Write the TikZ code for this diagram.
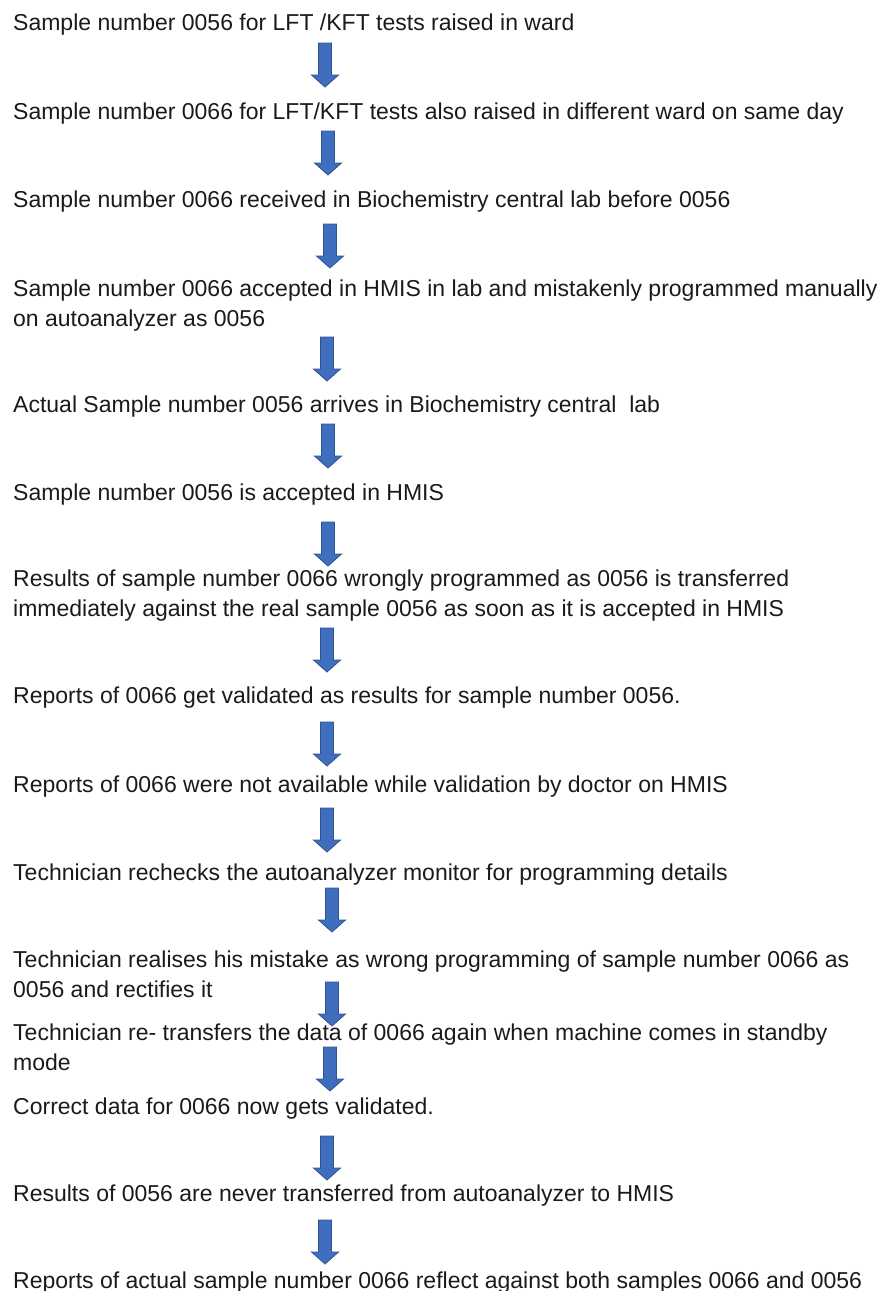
\documentclass[tikz,border=0pt]{standalone}
\usepackage{fontspec}
\setmainfont{Liberation Sans}
\definecolor{arrfill}{RGB}{64,110,190}
\definecolor{arrline}{RGB}{47,82,143}
\definecolor{txt}{RGB}{26,26,26}
\tikzset{
  stepline/.style={anchor=base west, inner sep=0pt, align=left, font=\fontsize{23}{30}\selectfont, text=txt},
  blockarr/.style={fill=arrfill, draw=arrline, line width=0.8pt, line join=miter},
  pics/downarrow/.style={code={
    \draw[blockarr] (-6.5,0) -- (6.5,0) -- (6.5,32) -- (13.5,32) -- (0,44) -- (-13.5,32) -- (-6.5,32) -- cycle;
    \coordinate (-top) at (0,0);
    \coordinate (-tip) at (0,44);
  }}
}
\begin{document}
\begin{tikzpicture}[x=1pt,y=-1pt]
\useasboundingbox (0,0) rectangle (881,1291);
\node[stepline] (s1) at (13,30) {Sample number 0056 for LFT /KFT tests raised in ward};
\node[stepline] (s2) at (13,119) {Sample number 0066 for LFT/KFT tests also raised in different ward on same day};
\node[stepline] (s3) at (13,207) {Sample number 0066 received in Biochemistry central lab before 0056};
\node[stepline] (s4) at (13,326) {Sample number 0066 accepted in HMIS in lab and mistakenly programmed manually\\on autoanalyzer as 0056};
\node[stepline] (s5) at (13,412) {Actual Sample number 0056 arrives in Biochemistry central\ \ lab};
\node[stepline] (s6) at (13,500) {Sample number 0056 is accepted in HMIS};
\node[stepline] (s7) at (13,616) {Results of sample number 0066 wrongly programmed as 0056 is transferred\\immediately against the real sample 0056 as soon as it is accepted in HMIS};
\node[stepline] (s8) at (13,703) {Reports of 0066 get validated as results for sample number 0056.};
\node[stepline] (s9) at (13,792) {Reports of 0066 were not available while validation by doctor on HMIS};
\node[stepline] (s10) at (13,880) {Technician rechecks the autoanalyzer monitor for programming details};
\node[stepline] (s11) at (13,997) {Technician realises his mistake as wrong programming of sample number 0066 as\\0056 and rectifies it};
\node[stepline] (s12) at (13,1070) {Technician re- transfers the data of 0066 again when machine comes in standby\\mode};
\node[stepline] (s13) at (13,1114) {Correct data for 0066 now gets validated.};
\node[stepline] (s14) at (13,1201) {Results of 0056 are never transferred from autoanalyzer to HMIS};
\node[stepline] (s15) at (13,1288) {Reports of actual sample number 0066 reflect against both samples 0066 and 0056};
\pic (a1) at (325,43) {downarrow};
\pic (a2) at (328,131) {downarrow};
\pic (a3) at (330,224) {downarrow};
\pic (a4) at (327,337) {downarrow};
\pic (a5) at (328,424) {downarrow};
\pic (a6) at (328,522) {downarrow};
\pic (a7) at (327,628) {downarrow};
\pic (a8) at (327,722) {downarrow};
\pic (a9) at (327,808) {downarrow};
\pic (a10) at (332,888) {downarrow};
\pic (a11) at (332,982) {downarrow};
\pic (a12) at (330,1047) {downarrow};
\pic (a13) at (327,1136) {downarrow};
\pic (a14) at (325,1220) {downarrow};
\end{tikzpicture}
\end{document}
